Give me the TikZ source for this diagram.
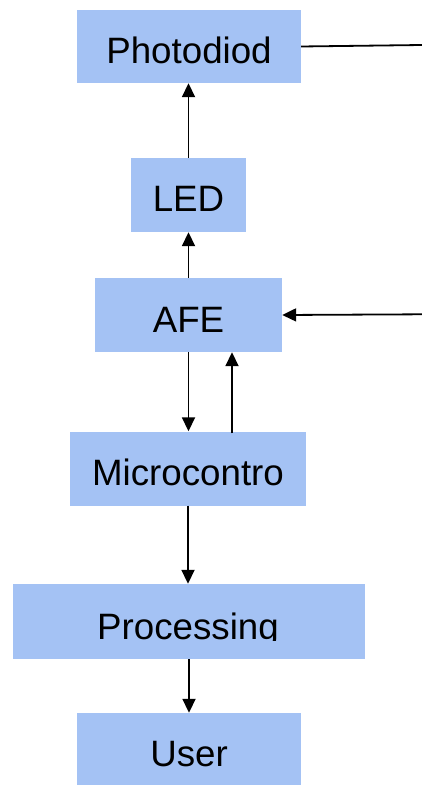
\documentclass[tikz,border=0pt]{standalone}
\usepackage{fontspec}
\setmainfont{Liberation Sans}
\usetikzlibrary{arrows.meta,calc}
\definecolor{boxblue}{HTML}{A4C2F4}
\begin{document}
\begin{tikzpicture}[x=1pt,y=-1pt,
  box/.style={fill=boxblue,draw=none,inner sep=0pt,
    font=\fontsize{36.7}{40}\selectfont,text height=34pt,text depth=0pt},
  lbl/.style={inner sep=0pt,font=\fontsize{36.7}{40}\selectfont,anchor=base},
  conn/.style={line width=1.8pt,black},
  arr/.style={conn,-{Triangle[length=14pt,width=13pt]}}]
\useasboundingbox (0,0) rectangle (422,786);
\node[box,minimum width=224pt,minimum height=73pt] (pd) at (189,46.5) {Photodiod};
\node[box,minimum width=115pt,minimum height=74pt] (led) at (188.5,195) {LED};
\node[box,minimum width=187pt,minimum height=74pt] (afe) at (188.5,315) {AFE};
\node[box,minimum width=236pt,minimum height=74pt] (mc) at (188,468.5) {Microcontro};
\node[box,minimum width=352pt,minimum height=75pt] (proc) at (189,621.5) {};
\node[box,minimum width=224pt,minimum height=72pt] (user) at (189,749) {User};
\begin{scope}
  \clip (13,584) rectangle (365,640);
  \node[lbl] (proct) at (188,639.3) {Processing};
\end{scope}
\coordinate (pdend) at (422,45);
\coordinate (afein) at (422,314.3);
\coordinate (upx) at (232,0);
\draw[conn] (pd.east) -- (pdend);
\draw[arr] (led.north) -- (led.north |- pd.south);
\draw[arr] (afe.north) -- (afe.north |- led.south);
\draw[arr] (afein) -- (afe.east);
\draw[arr] (afe.south) -- (afe.south |- mc.north);
\draw[arr] ([yshift=-2pt]mc.north -| upx) -- (afe.south -| upx);
\draw[arr] (mc.south) -- (mc.south |- proc.north);
\draw[arr] (proc.south) -- (proc.south |- user.north);
\end{tikzpicture}
\end{document}
